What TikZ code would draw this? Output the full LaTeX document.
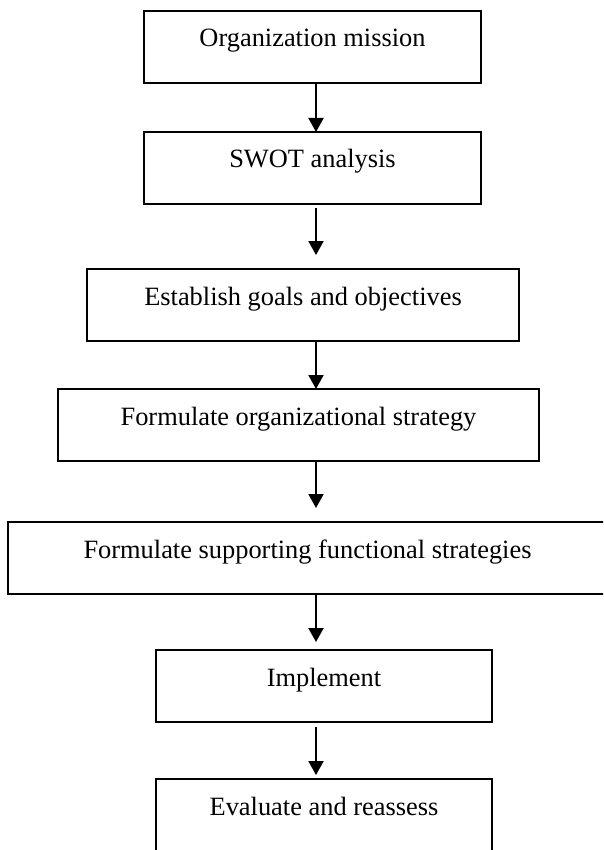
\documentclass[tikz,border=0pt]{standalone}
\usepackage{fontspec}
\setmainfont{Liberation Serif}
\usetikzlibrary{positioning,arrows.meta}

\begin{document}
\begin{tikzpicture}[x=1pt, y=-1pt,
                    stage/.style={draw, line width=1.8pt, outer sep=0pt, minimum height=72pt,
                                  text height=12pt, text depth=12pt,
                                  font=\fontsize{26.4}{32}\selectfont},
                    flow/.style={draw, line width=2pt, -{Triangle[width=15pt,length=14pt]}}]

  \useasboundingbox (0,0) rectangle (603,850);
  \clip (0,0) rectangle (603,850);

  \coordinate (col) at (316,0);

  \node[stage, minimum width=337pt] (mission) at (312.5,47) {Organization mission};
  \node[stage, minimum width=337pt] (swot) [below=49pt of mission] {SWOT analysis};
  \node[stage, minimum width=432pt] (goals) [below=65pt of swot, xshift=-9.5pt] {Establish goals and objectives};
  \node[stage, minimum width=481pt] (strategy) [below=48pt of goals, xshift=-4.5pt] {Formulate organizational strategy};
  \node[stage, minimum width=599pt] (functional) [below=61pt of strategy, xshift=9pt] {Formulate supporting functional strategies};
  \node[stage, minimum width=336pt] (implement) [below=56pt of functional, xshift=16.5pt] {Implement};
  \node[stage, minimum width=336pt] (evaluate) [below=57pt of implement] {Evaluate and reassess};

\path[every edge/.style={flow}]

    (mission.south -| col) edge (swot.north -| col)
    (swot.south -| col) edge [shorten <=4pt, shorten >=14pt] (goals.north -| col)
    (goals.south -| col) edge (strategy.north -| col)
    (strategy.south -| col) edge [shorten >=14pt] (functional.north -| col)
    (functional.south -| col) edge [shorten >=8pt] (implement.north -| col)
    (implement.south -| col) edge [shorten <=5pt, shorten >=4pt] (evaluate.north -| col);

\end{tikzpicture}
\end{document}
